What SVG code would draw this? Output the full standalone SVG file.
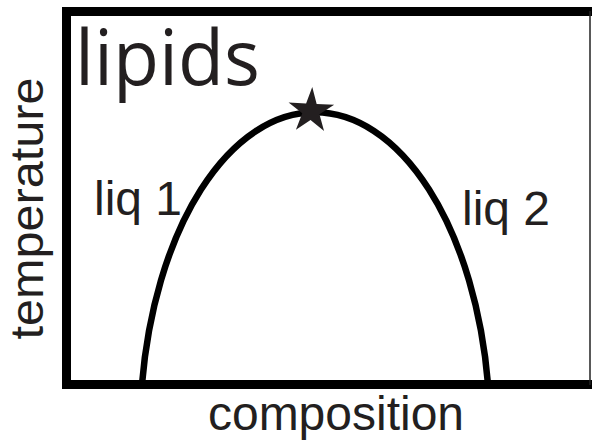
<svg xmlns="http://www.w3.org/2000/svg" width="592" height="440" viewBox="0 0 592 440">
<style>
.lbl{font-family:"Liberation Sans",Arial,sans-serif;font-size:48px;fill:#231f20}
.title{font-family:"Open Sans","Noto Sans",sans-serif;font-size:77px;fill:#231f20}
.frame{fill:none;stroke:#000;stroke-width:9}
.curve{fill:none;stroke:#000;stroke-width:6.5}
</style>
<rect width="592" height="440" fill="#fff"/>
<g id="frame">
<path class="frame" d="M596,11.5 H66.5 V384.5 H596"/>
<line x1="590" y1="11" x2="590" y2="385" stroke="#222" stroke-width="1.5"/>
</g>
<g id="title"><text class="title" x="75" y="85" textLength="185" lengthAdjust="spacingAndGlyphs">lipids</text></g>
<g id="connectors">
<path id="coexistence-curve" class="curve" d="M142,384 A175,320 0 0 1 488,384"/>
</g>
<g id="critical-point">
<polygon fill="#231f20" transform="translate(311,111) rotate(3)" points="0,-24 5.3,-7.3 22.8,-7.4 8.6,2.8 14.1,19.4 0,9 -14.1,19.4 -8.6,2.8 -22.8,-7.4 -5.3,-7.3"/>
</g>
<g id="liq1"><text class="lbl" x="94" y="215">liq 1</text></g>
<g id="liq2"><text class="lbl" x="462" y="225">liq 2</text></g>
<g id="y-label"><text class="lbl" style="font-size:47px" text-anchor="middle" textLength="262" lengthAdjust="spacingAndGlyphs" transform="translate(42.8,208.5) rotate(-90)">temperature</text></g>
<g id="x-label"><text class="lbl" x="336" y="430" text-anchor="middle">composition</text></g>
</svg>
